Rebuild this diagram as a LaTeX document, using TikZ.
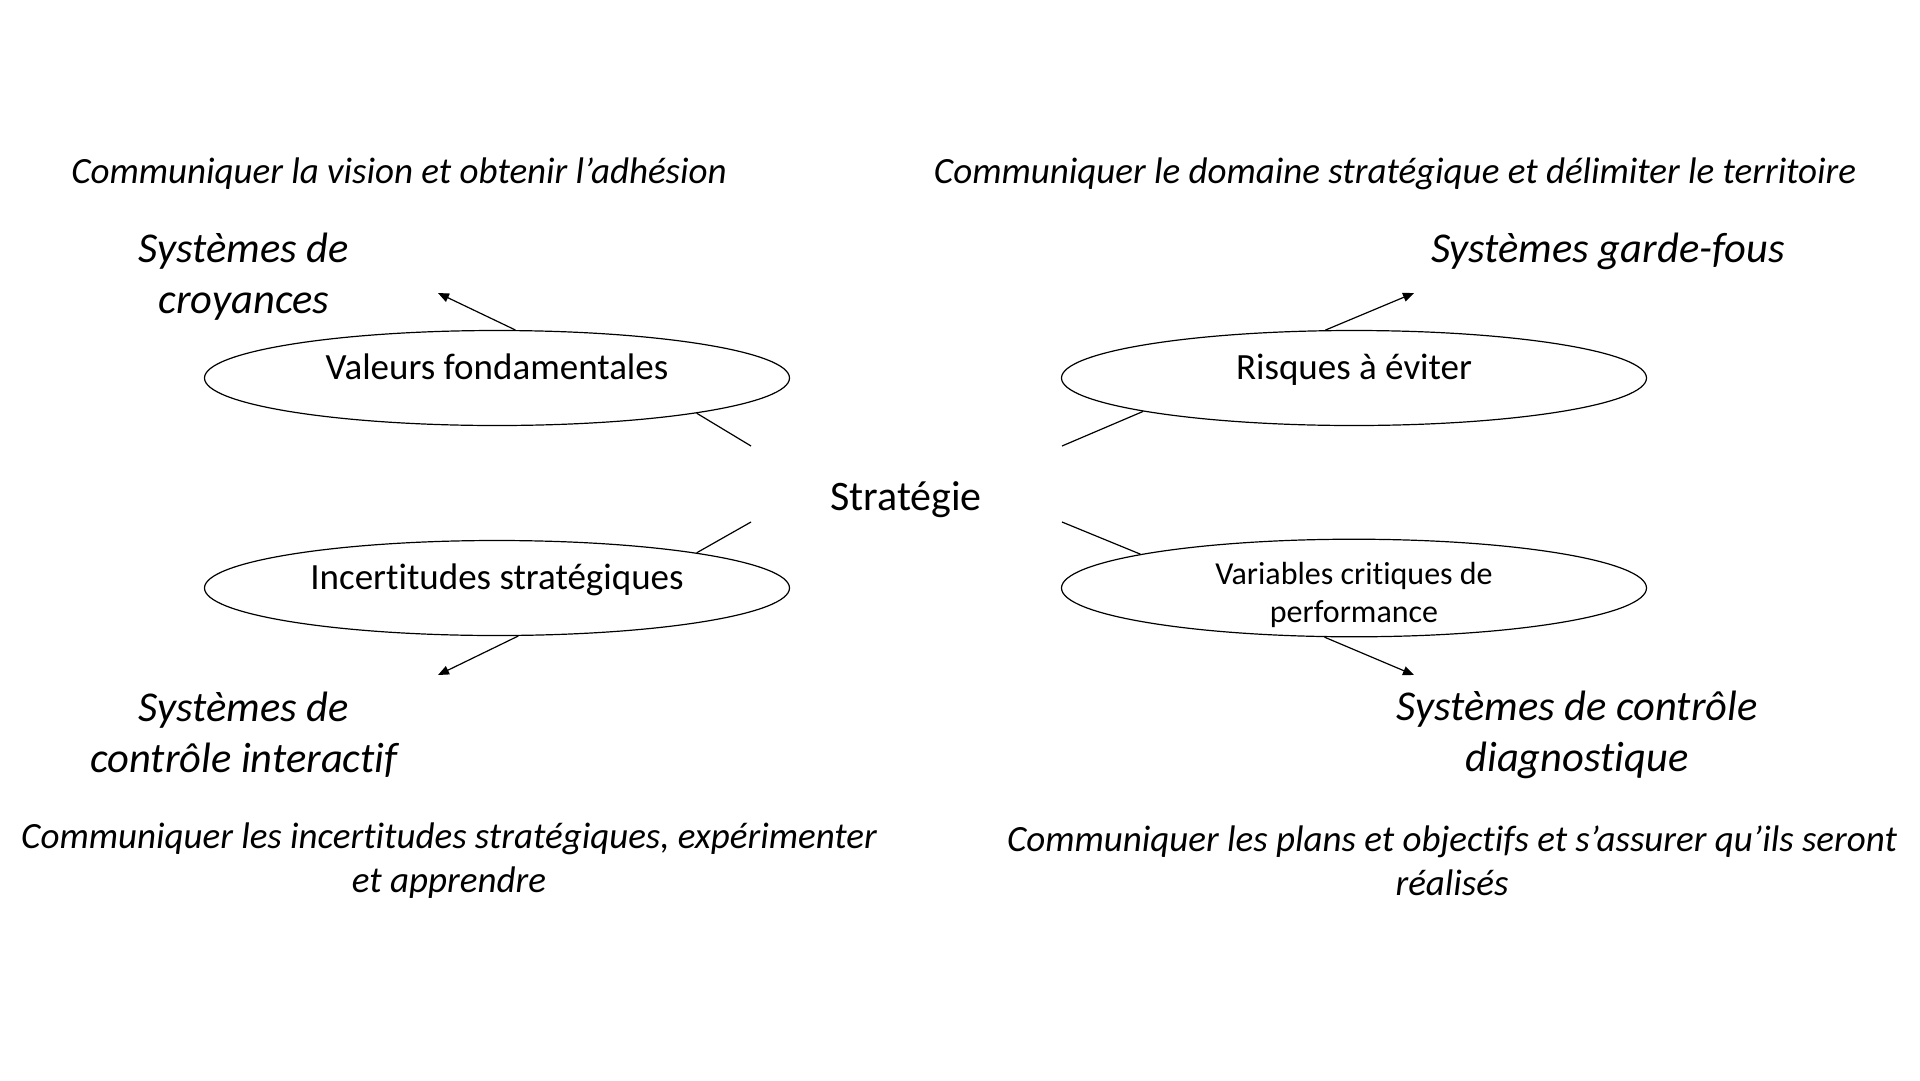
\documentclass[tikz,border=0pt]{standalone}
\usepackage{fontspec}
\setmainfont{Carlito}[Ligatures=CommonOff]
\usetikzlibrary{shapes.geometric,arrows.meta}
\begin{document}
\begin{tikzpicture}[x=1pt, y=-1pt,
  oval/.style={draw, ellipse, minimum width=585pt, minimum height=95pt, inner sep=0pt, line width=1.2pt, font=\fontsize{37}{44}\selectfont},
  goal/.style={font=\itshape\fontsize{37}{44}\selectfont, align=center},
  sys/.style={font=\itshape\fontsize{42.5}{51}\selectfont, align=center},
  link/.style={line width=1.2pt},
  arr/.style={line width=1.2pt, -{Triangle[length=11pt, width=9pt]}}
]
\useasboundingbox (0,0) rectangle (1920,1080);
% centre
\node[font=\fontsize{42}{50}\selectfont] (st) at (906,500) {Stratégie};
% ellipses
\node[oval, text height=26pt, text depth=24pt] (vf) at (497,378) {Valeurs fondamentales};
\node[oval, text height=26pt, text depth=24pt] (ra) at (1354,378) {Risques à éviter};
\node[oval, text height=26pt, text depth=24pt] (is) at (497,588) {Incertitudes stratégiques};
\node[oval, align=center, font=\fontsize{32}{38}\selectfont, text height=69pt, text depth=-5pt] (vc) at (1354,588) {Variables critiques de\\performance};
% systems
\node[sys] (sc) at (244,277) {Systèmes de\\croyances};
\node[sys] (sg) at (1608,251) {Systèmes garde-fous};
\node[sys] (si) at (244,735) {Systèmes de\\contrôle interactif};
\node[sys] (sd) at (1577,735) {Systèmes de contrôle\\diagnostique};
% goals
\node[goal] (g1) at (399,174) {Communiquer la vision et obtenir l’adhésion};
\node[goal] (g2) at (1395,174) {Communiquer le domaine stratégique et délimiter le territoire};
\node[goal] (g3) at (449,861) {Communiquer les incertitudes stratégiques, expérimenter\\et apprendre};
\node[goal] (g4) at (1452,861) {Communiquer les plans et objectifs et s’assurer qu’ils seront\\réalisés};
% free ends
\coordinate (a1) at (751,446);
\coordinate (a2) at (1062,446);
\coordinate (a3) at (751,522);
\coordinate (a4) at (1062,522);
\coordinate (b1) at (438,293);
\coordinate (b2) at (1414,293);
\coordinate (b3) at (438,675);
\coordinate (b4) at (1414,675);
% connectors
\draw[link] (a1) -- (vf.-10.7);
\draw[link] (a2) -- (ra.-171.2);
\draw[link] (a3) -- (is.10.7);
\draw[link] (a4) -- (vc.171.5);
\draw[arr] (vf.69) -- (b1);
\draw[arr] (ra.121.7) -- (b2);
\draw[arr] (is.-66.4) -- (b3);
\draw[arr] (vc.-121) -- (b4);
\end{tikzpicture}
\end{document}
